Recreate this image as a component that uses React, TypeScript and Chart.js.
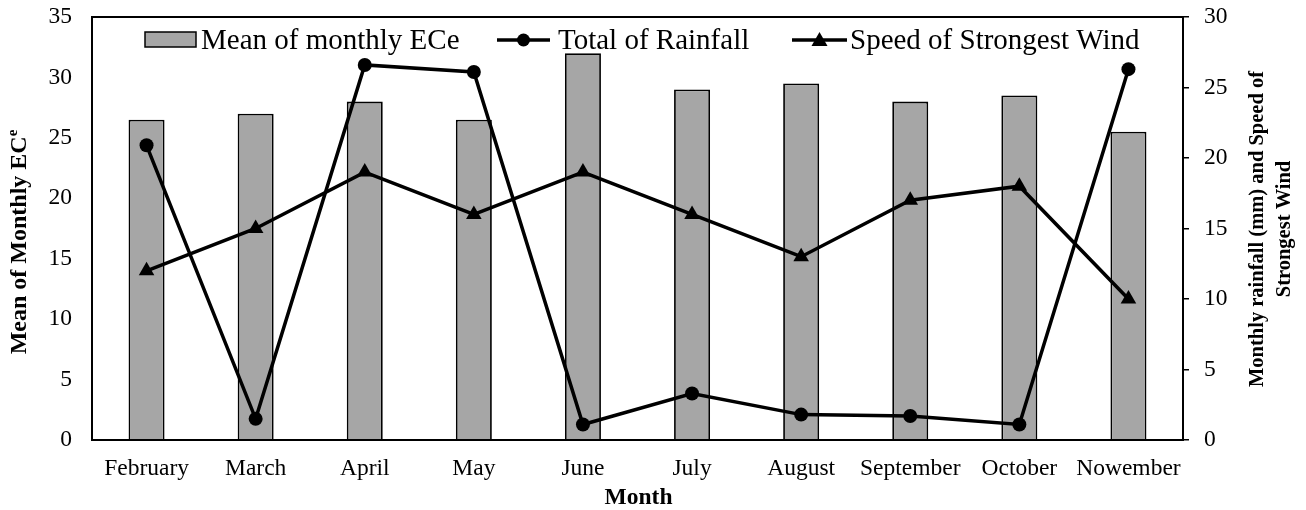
import React, { useEffect, useRef } from "react";
import { Chart, registerables } from "chart.js";

Chart.register(...registerables);

const months = ["February", "March", "April", "May", "June", "July", "August", "September", "October", "Nowember"];
const meanEce = [26.5, 27, 28, 26.5, 32, 29, 29.5, 28, 28.5, 25.5];
const rainfall = [20.9, 1.5, 26.6, 26.1, 1.1, 3.3, 1.8, 1.7, 1.1, 26.3];
const windSpeed = [12, 15, 19, 16, 19, 16, 13, 17, 18, 10];
const leftTicks = [0, 5, 10, 15, 20, 25, 30, 35];
const rightTicks = [0, 5, 10, 15, 20, 25, 30];

const FONT = "'Liberation Serif', 'Times New Roman', serif";
const BAR_FILL = "#a6a6a6";
const TICK_SIZE = 23.5;

const framePlugin = {
  id: "frameAndText",
  afterDraw(chart: any) {
    const { ctx, chartArea } = chart;
    const { left, right, top, bottom } = chartArea;
    ctx.save();
    // frame
    ctx.strokeStyle = "#000";
    ctx.lineWidth = 2;
    ctx.strokeRect(left, top, right - left, bottom - top);

    // x title
    ctx.fillStyle = "#000";
    ctx.font = `bold 23.5px ${FONT}`;
    ctx.textAlign = "center";
    ctx.textBaseline = "middle";
    ctx.fillText("Month", (left + right) / 2 + 1, 498);

    // left title with superscript
    ctx.save();
    ctx.translate(20, 242);
    ctx.rotate(-Math.PI / 2);
    const main = "Mean of Monthly EC";
    ctx.font = `bold 24px ${FONT}`;
    const wMain = ctx.measureText(main).width;
    ctx.font = `bold 15px ${FONT}`;
    const wSup = ctx.measureText("e").width;
    const total = wMain + wSup;
    ctx.textAlign = "left";
    ctx.font = `bold 24px ${FONT}`;
    ctx.fillText(main, -total / 2, 0);
    ctx.font = `bold 15px ${FONT}`;
    ctx.fillText("e", -total / 2 + wMain, -7);
    ctx.restore();

    // right title (reads bottom to top)
    ctx.save();
    ctx.translate(1271, 229);
    ctx.rotate(-Math.PI / 2);
    ctx.font = `bold 20.5px ${FONT}`;
    ctx.textAlign = "center";
    ctx.fillText("Monthly rainfall (mm) and Speed of", 0, -13);
    ctx.fillText("Strongest Wind", 0, 14);
    ctx.restore();

    // legend
    const ly = 40;
    ctx.font = `29px ${FONT}`;
    ctx.textAlign = "left";
    ctx.textBaseline = "middle";
    // bar entry
    ctx.fillStyle = BAR_FILL;
    ctx.fillRect(145, 32, 51, 15);
    ctx.strokeStyle = "#000";
    ctx.lineWidth = 1.5;
    ctx.strokeRect(145, 32, 51, 15);
    ctx.fillStyle = "#000";
    ctx.fillText("Mean of monthly ECe", 201, ly + 1);
    // rainfall entry
    ctx.lineWidth = 3.5;
    ctx.beginPath();
    ctx.moveTo(497, ly);
    ctx.lineTo(550, ly);
    ctx.stroke();
    ctx.beginPath();
    ctx.arc(523.5, ly, 6.5, 0, Math.PI * 2);
    ctx.fill();
    ctx.fillText("Total of Rainfall", 558, ly + 1);
    // wind entry
    ctx.beginPath();
    ctx.moveTo(792, ly);
    ctx.lineTo(847, ly);
    ctx.stroke();
    ctx.beginPath();
    const tx = 819.5;
    ctx.moveTo(tx, ly - 8);
    ctx.lineTo(tx + 8, ly + 6);
    ctx.lineTo(tx - 8, ly + 6);
    ctx.closePath();
    ctx.fill();
    ctx.fillText("Speed of Strongest Wind", 850, ly + 1);
    ctx.restore();
  },
};

export default function App() {
  const ref = useRef<HTMLCanvasElement | null>(null);
  useEffect(() => {
    document.body.style.margin = "0";
    const canvas = ref.current;
    if (!canvas) return;
    const chart = new Chart(canvas, {
      type: "bar",
      data: {
        labels: months,
        datasets: [
          {
            type: "line",
            label: "Total of Rainfall",
            data: rainfall,
            yAxisID: "y1",
            borderColor: "#000",
            backgroundColor: "#000",
            borderWidth: 3.5,
            pointStyle: "circle",
            pointRadius: 7,
            pointBorderWidth: 0,
            tension: 0,
            order: 1,
          } as any,
          {
            type: "line",
            label: "Speed of Strongest Wind",
            data: windSpeed,
            yAxisID: "y1",
            borderColor: "#000",
            backgroundColor: "#000",
            borderWidth: 3.5,
            pointStyle: "triangle",
            pointRadius: 9,
            pointBorderWidth: 0,
            tension: 0,
            order: 0,
          } as any,
          {
            type: "bar",
            label: "Mean of monthly ECe",
            data: meanEce,
            yAxisID: "y",
            backgroundColor: BAR_FILL,
            borderColor: "#000",
            borderWidth: 1.8,
            categoryPercentage: 1,
            barPercentage: 0.33,
            order: 2,
          } as any,
        ],
      },
      options: {
        animation: false,
        responsive: false,
        maintainAspectRatio: false,
        layout: { padding: { top: 17, left: 0, right: 0, bottom: 0 } },
        plugins: {
          legend: { display: false },
          tooltip: { enabled: false },
        },
        scales: {
          x: {
            type: "category",
            offset: true,
            grid: { display: false, drawTicks: false },
            border: { display: false },
            ticks: {
              color: "#000",
              font: { family: FONT, size: TICK_SIZE },
              padding: 15,
              maxRotation: 0,
              autoSkip: false,
            },
            afterFit(scale: any) {
              scale.height = 70;
              scale.paddingLeft = 0;
              scale.paddingRight = 0;
            },
          },
          y: {
            position: "left",
            min: 0,
            max: 35,
            afterBuildTicks(scale: any) {
              scale.ticks = leftTicks.map((v) => ({ value: v }));
            },
            grid: { display: false, drawTicks: false },
            border: { display: false },
            ticks: {
              color: "#000",
              font: { family: FONT, size: TICK_SIZE },
              padding: 20,
            },
            afterFit(scale: any) {
              scale.width = 92;
              scale.paddingTop = 0;
              scale.paddingBottom = 0;
            },
          },
          y1: {
            position: "right",
            min: 0,
            max: 30,
            afterBuildTicks(scale: any) {
              scale.ticks = rightTicks.map((v) => ({ value: v }));
            },
            grid: {
              display: true,
              drawOnChartArea: false,
              drawTicks: true,
              tickLength: 6,
              color: "#000",
              lineWidth: 1.5,
            },
            border: { display: false },
            ticks: {
              color: "#000",
              font: { family: FONT, size: TICK_SIZE },
              padding: 15,
            },
            afterFit(scale: any) {
              scale.width = 123;
              scale.paddingTop = 0;
              scale.paddingBottom = 0;
            },
          },
        },
      },
      plugins: [framePlugin],
    });
    return () => chart.destroy();
  }, []);
  return (
    <div style={{ width: 1306, height: 510 }}>
      <canvas ref={ref} width={1306} height={510} style={{ display: "block", width: 1306, height: 510 }} />
    </div>
  );
}
